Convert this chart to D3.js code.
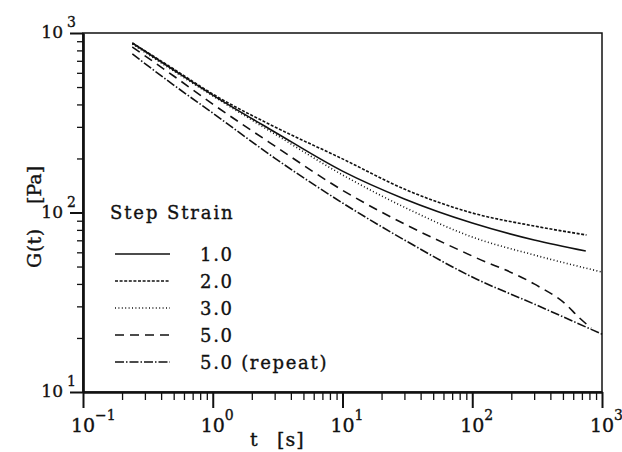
<!DOCTYPE html>
<html>
<head>
<meta charset="utf-8">
<script src="https://cdn.jsdelivr.net/npm/d3@7"></script>
<style>
  html, body { margin: 0; padding: 0; background: #fff; }
  text { font-family: "DejaVu Serif", "Liberation Serif", serif; fill: #111; stroke: #111; stroke-width: 0.35px; }
</style>
</head>
<body>
<div id="chart"></div>
<script>
// relaxation modulus after step strain
const strainLabels = ['1.0', '2.0', '3.0', '5.0', '5.0 (repeat)'];

const tStrain1 = [0.24, 0.5, 1, 3, 10, 30, 100, 300, 750];
const gStrain1 = [880, 622, 451, 281, 170, 119, 87.4, 70.3, 61];

const tStrain2 = [0.24, 0.5, 1, 3, 10, 30, 100, 300, 760];
const gStrain2 = [880, 630, 457, 300, 199, 135, 99.4, 84.1, 74.9];

const tStrain3 = [0.24, 0.5, 1, 3, 10, 30, 100, 300, 1000];
const gStrain3 = [868, 614, 446, 274, 162, 107, 73, 58, 46.6];

const tStrain5 = [0.24, 0.5, 1, 3, 10, 30, 100, 300, 534, 658, 825];
const gStrain5 = [836, 576, 402, 235, 133, 86.3, 57.2, 40, 30.5, 26.2, 22.7];

const tStrain5r = [0.24, 0.5, 1, 3, 10, 30, 100, 300, 1000];
const gStrain5r = [764, 513, 358, 201, 113, 70.3, 43.7, 30.9, 21];

const xDecades = [0.1, 1, 10, 100, 1000];
const xExponents = ['\u22121', '0', '1', '2', '3'];
const yDecades = [10, 100, 1000];
const yExponents = ['1', '2', '3'];

const width = 622;
const height = 452;
const margin = { left: 83, top: 33, right: 20, bottom: 60 };

const series = [
  { label: strainLabels[0], t: tStrain1, g: gStrain1, dash: null },
  { label: strainLabels[1], t: tStrain2, g: gStrain2, dash: '3,1.6' },
  { label: strainLabels[2], t: tStrain3, g: gStrain3, dash: '1,2.4' },
  { label: strainLabels[3], t: tStrain5, g: gStrain5, dash: '9,6' },
  { label: strainLabels[4], t: tStrain5r, g: gStrain5r, dash: '9,2,1.5,2' },
];

const svg = d3.select('#chart')
  .append('svg')
  .attr('width', width)
  .attr('height', height);

const x = d3.scaleLog()
  .domain([0.1, 1000])
  .range([margin.left, width - margin.right]);

const y = d3.scaleLog()
  .domain([10, 1000])
  .range([height - margin.bottom, margin.top]);

// minor ticks 2..9 in each decade
const minors = (decades) => {
  const out = [];
  decades.slice(0, -1).forEach(d => {
    for (let k = 2; k <= 9; k++) out.push(d * k);
  });
  return out;
};

// frame (top and right are plain lines)
svg.append('rect')
  .attr('x', x.range()[0])
  .attr('y', y.range()[1])
  .attr('width', x.range()[1] - x.range()[0])
  .attr('height', y.range()[0] - y.range()[1])
  .attr('fill', 'none')
  .attr('stroke', '#111')
  .attr('stroke-width', 1.5);

const styleAxis = (g, width) => {
  g.selectAll('path.domain').attr('stroke', '#111').attr('stroke-width', 2.2);
  g.selectAll('.tick line').attr('stroke', '#111').attr('stroke-width', width);
  g.selectAll('.tick text').remove();
};

const xAxisY = y.range()[0];
svg.append('g')
  .attr('transform', `translate(0,${xAxisY})`)
  .call(d3.axisBottom(x).tickValues(minors(xDecades)).tickSize(8).tickSizeOuter(0))
  .call(g => styleAxis(g, 1.3));
svg.append('g')
  .attr('transform', `translate(0,${xAxisY})`)
  .call(d3.axisBottom(x).tickValues(xDecades).tickSize(16).tickSizeOuter(0))
  .call(g => styleAxis(g, 2));

const yAxisX = x.range()[0];
svg.append('g')
  .attr('transform', `translate(${yAxisX},0)`)
  .call(d3.axisLeft(y).tickValues(minors(yDecades)).tickSize(6).tickSizeOuter(0))
  .call(g => styleAxis(g, 1.3));
svg.append('g')
  .attr('transform', `translate(${yAxisX},0)`)
  .call(d3.axisLeft(y).tickValues(yDecades).tickSize(13).tickSizeOuter(0))
  .call(g => styleAxis(g, 2));

// tick labels as 10 with a raised exponent
const xLab = svg.append('g').selectAll('g')
  .data(xDecades)
  .enter().append('g')
    .attr('transform', d => `translate(${x(d)},${xAxisY + 40})`);
xLab.append('text')
  .attr('text-anchor', 'middle')
  .attr('font-size', 19)
  .text('10');
xLab.append('text')
  .attr('x', 12)
  .attr('y', -12)
  .attr('font-size', 14)
  .text((d, i) => xExponents[i]);

const yLab = svg.append('g').selectAll('g')
  .data(yDecades)
  .enter().append('g')
    .attr('transform', d => `translate(${yAxisX - 20},${y(d) + 5})`);
yLab.append('text')
  .attr('text-anchor', 'end')
  .attr('font-size', 17)
  .text('10');
yLab.append('text')
  .attr('x', 4)
  .attr('y', -11)
  .attr('font-size', 14)
  .text((d, i) => yExponents[i]);

// axis titles, typed with wide spacing like the original
const yTitle = svg.append('g').attr('transform', 'translate(41,0) rotate(-90)');
yTitle.append('text')
  .attr('x', -268)
  .attr('font-size', 19)
  .attr('letter-spacing', 0.5)
  .text('G(t)');
yTitle.append('text')
  .attr('x', -204)
  .attr('font-size', 19)
  .text('[Pa]');

svg.append('text')
  .attr('x', 250)
  .attr('y', 446)
  .attr('font-size', 19)
  .text('t');
svg.append('text')
  .attr('x', 277)
  .attr('y', 446)
  .attr('font-size', 19)
  .attr('letter-spacing', 1)
  .text('[s]');

// curves
const line = d3.line()
  .x(d => x(d[0]))
  .y(d => y(d[1]))
  .curve(d3.curveMonotoneX);

svg.append('g')
  .selectAll('path')
  .data(series)
  .enter().append('path')
    .attr('d', s => line(s.t.map((t, i) => [t, s.g[i]])))
    .attr('fill', 'none')
    .attr('stroke', '#111')
    .attr('stroke-width', 1.6)
    .attr('stroke-dasharray', s => s.dash);

// legend
const legend = svg.append('g');
legend.append('text')
  .attr('x', 110)
  .attr('y', 219)
  .attr('font-size', 18)
  .attr('letter-spacing', 1.9)
  .text('Step Strain');

const rows = legend.selectAll('g.row')
  .data(series)
  .enter().append('g')
    .attr('class', 'row')
    .attr('transform', (d, i) => `translate(0,${254 + i * 27})`);
rows.append('line')
  .attr('x1', 115)
  .attr('x2', 170)
  .attr('stroke', '#111')
  .attr('stroke-width', 1.6)
  .attr('stroke-dasharray', s => s.dash);
rows.append('text')
  .attr('x', 200)
  .attr('y', 7)
  .attr('font-size', 18)
  .attr('letter-spacing', 1.7)
  .style('white-space', 'pre')
  .text(s => s.label);
</script>
</body>
</html>
